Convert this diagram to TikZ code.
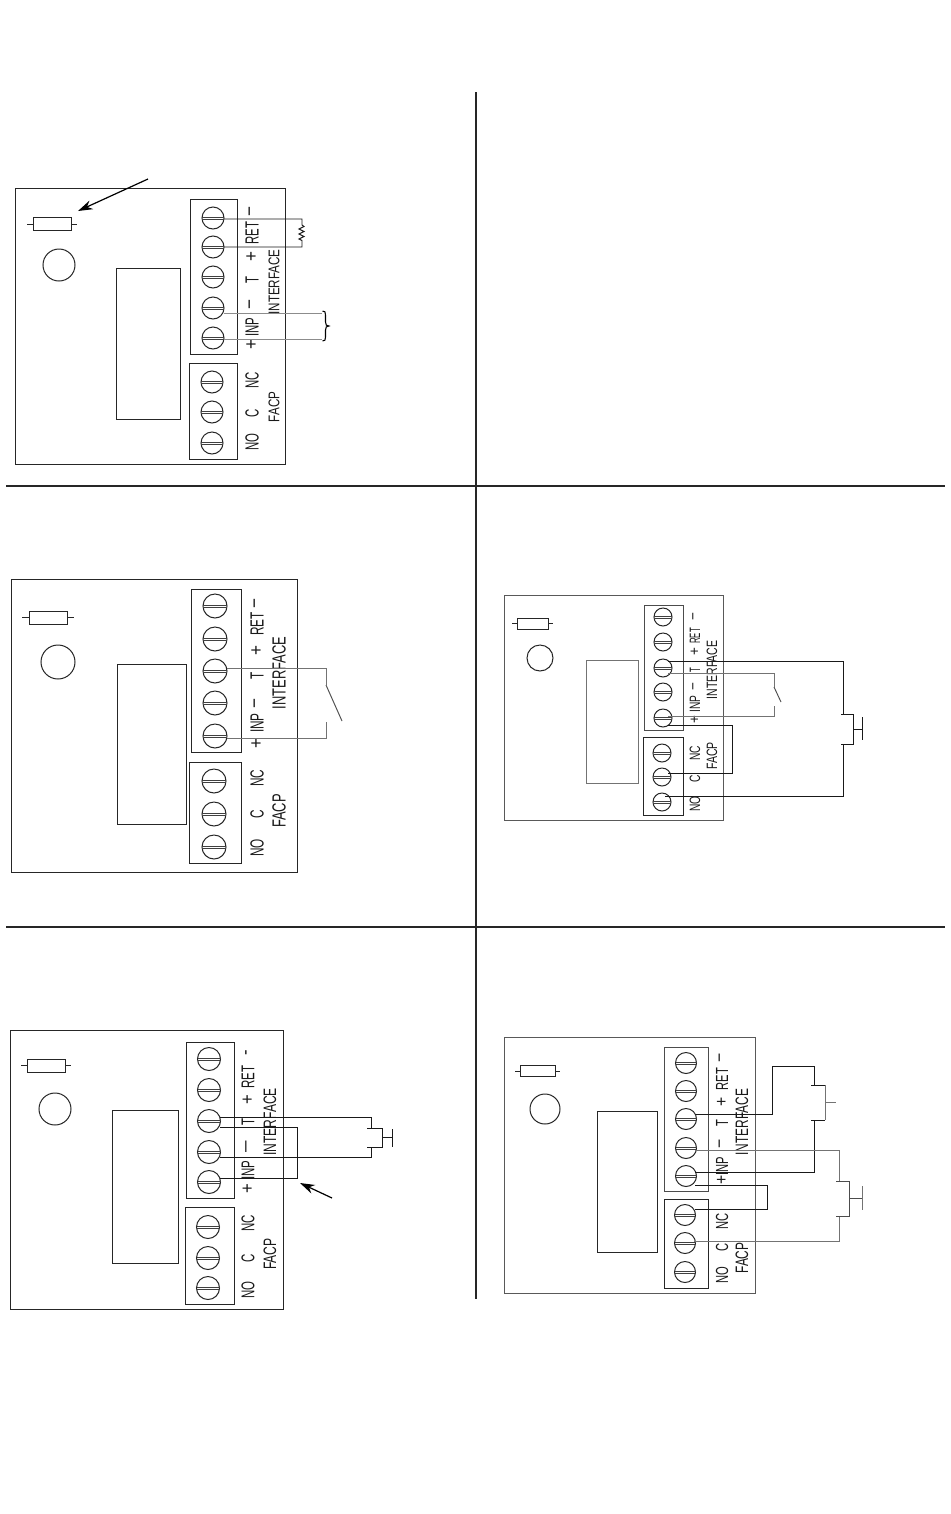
\documentclass[tikz,border=0pt]{standalone}
\usepackage{graphicx}
\usepackage{fontspec}
\setmainfont{Liberation Sans}
\usetikzlibrary{calc,arrows.meta}
\tikzset{
  x=0.75pt,y=-0.75pt,
  outline/.style={draw=black!85,line width=0.75pt},
  screwc/.style={circle,draw=black!85,line width=0.75pt,inner sep=0pt,outer sep=0pt},
  slot/.style={draw=black!75,line width=0.65pt},
  wire/.style={draw=black!90,line width=0.7pt},
  gwire/.style={draw=black!55,line width=0.7pt},
  divider/.style={draw=black!85,line width=1.9pt},
  pointer/.style={draw=black,line width=0.9pt,-{Stealth[length=11pt,width=7pt]}},
  lab/.style={inner sep=0pt,outer sep=0pt,rotate=90,text=black!90}
}
\newcount\lblc
\def\lx{0}\def\ls{18}\def\lst{.6}
\newcommand{\lbl}[2]{\global\advance\lblc by 1
  \pgfmathsetmacro{\fsz}{\ls*0.75}
  \node[lab] (lab\the\lblc) at (\lx,#1) {\scalebox{\lst}[1]{\fontsize{\fsz pt}{\fsz pt}\selectfont #2}};}
% plus and minus signs keep nearly their natural width
\newcommand{\sgn}[2]{\global\advance\lblc by 1
  \pgfmathsetmacro{\fsz}{\ls*0.75}
  \node[lab] (lab\the\lblc) at (\lx,#1) {\scalebox{.9}[1]{\fontsize{\fsz pt}{\fsz pt}\selectfont #2}};}
\newcommand{\setlab}[3]{\def\lx{#1}\def\ls{#2}\def\lst{#3}}
% name x y radius
\newcommand{\screw}[4]{
  \pgfmathsetmacro{\dia}{2*#4*0.75}
  \node[screwc,minimum size=\dia pt] (#1) at (#2,#3) {};
  \draw[slot] (#2-#4,#3-1) -- (#2+#4,#3-1);
  \draw[slot] (#2-#4,#3+1) -- (#2+#4,#3+1);}
% x0 y0 x1 y1 ; lead length; y centre
\newcommand{\fuse}[6]{\draw[outline] (#1,#2) rectangle (#3,#4);
  \draw[outline] (#1-#5,#6) -- (#1,#6) (#3,#6) -- (#3+#5,#6);}
\begin{document}
\begin{tikzpicture}
\useasboundingbox (0,0) rectangle (950,1514);
\fill[white] (0,0) rectangle (950,1514);
% dividers
\coordinate (vt) at (476,92); \coordinate (vb) at (476,1299);
\coordinate (h1l) at (6,486); \coordinate (h1r) at (945,486);
\coordinate (h2l) at (6,927); \coordinate (h2r) at (945,927);
\draw[divider] (vt) -- (vb); \draw[divider] (h1l) -- (h1r); \draw[divider] (h2l) -- (h2r);

% ---------- Panel A
\draw[outline] (15.5,188) rectangle (285,464);
\fuse{33}{217}{71}{230}{6}{224}
\node[screwc,minimum size=24pt] (aled) at (59,265) {};
\draw[outline] (116,268) rectangle (180,419);
\draw[outline] (190,199) rectangle (237,354);
\draw[outline] (189,363) rectangle (237,459);
\screw{a1}{213}{218}{11}\screw{a2}{213}{247}{11}\screw{a3}{213}{277}{11}\screw{a4}{213}{308}{11}\screw{a5}{213}{338}{11}
\screw{a6}{212}{382}{11}\screw{a7}{212}{412}{11}\screw{a8}{212}{443}{11}
\setlab{252}{19}{.6}
\sgn{212}{−}\lbl{233}{RET}\sgn{257}{+}\lbl{280}{T}\sgn{305}{−}\lbl{327}{INP}\sgn{345}{+}\lbl{380}{NC}\lbl{413}{C}\lbl{442}{NO}
\setlab{274}{15.5}{.75}
\lbl{282}{INTERFACE}\lbl{407}{FACP}
\coordinate (ares) at (302,225);
\draw[wire] ($(a1)+(11,1)$) -| (ares)
  -- (304,226.5) -- (299,229) -- (304,231.5) -- (299,234) -- (304,236.5) -- (299,239) -- (302,240.5) |- ($(a2)+(11,0)$);
\coordinate (abr1) at (322,313); \coordinate (abr2) at (322,339);
\draw[gwire,draw=black!45,line width=0.6pt] ($(a4)+(11,5)$) -- (abr1);
\draw[gwire,draw=black!45,line width=0.6pt] ($(a5)+(11,1)$) -- (abr2);
\draw[draw=black,line width=0.8pt] (322.5,311) .. controls (325,311) and (325.5,312) .. (325.5,315)
  -- (325.5,322) .. controls (325.5,325) and (326.5,326) .. (329,326)
  .. controls (326.5,326) and (325.5,327) .. (325.5,330)
  -- (325.5,337) .. controls (325.5,340) and (325,341) .. (322.5,341);
\coordinate (aa1) at (148,179); \coordinate (aa2) at (78,211);
\draw[pointer] (aa1) -- (aa2);

% ---------- Panel B
\draw[outline] (11,579) rectangle (297,872);
\fuse{29}{611}{67}{624}{7}{617}
\node[screwc,minimum size=25.5pt] (bled) at (58,662) {};
\draw[outline] (117,664) rectangle (186,824);
\draw[outline] (191,589) rectangle (241,752);
\draw[outline] (189,762) rectangle (241,863);
\screw{b1}{215}{606}{12}\screw{b2}{215}{639}{12}\screw{b3}{215}{671}{12}\screw{b4}{215}{703}{12}\screw{b5}{215}{736}{12}
\screw{b6}{214}{781}{12}\screw{b7}{214}{814}{12}\screw{b8}{214}{847}{12}
\setlab{257}{19}{.62}
\sgn{603}{−}\lbl{624}{RET}\sgn{650}{+}\lbl{676}{T}\sgn{703}{−}\lbl{723}{INP}\sgn{743}{+}\lbl{778}{NC}\lbl{814}{C}\lbl{848}{NO}
\setlab{279}{19}{.68}
\lbl{673}{INTERFACE}\lbl{811}{FACP}
\coordinate (bs1) at (326,685); \coordinate (bs2) at (326,722); \coordinate (bs3) at (342,721);
\draw[gwire] ($(b3)+(12,-3)$) -| (bs1);
\draw[draw=black!70,line width=0.7pt] (bs1) -- (bs3);
\draw[gwire] ($(b5)+(12,2)$) -| (bs2);

% ---------- Panel C
\draw[outline,draw=black!65] (504,595) rectangle (723,820);
\fuse{517}{618}{548}{629}{5}{623}
\node[screwc,minimum size=19.5pt] (cled) at (540,658) {};
\draw[outline,draw=black!55] (586,660) rectangle (638,783);
\draw[outline,draw=black!70] (644,605) rectangle (683,730);
\draw[outline] (643,737) rectangle (683,815);
\screw{c1}{663}{617}{9}\screw{c2}{663}{642}{9}\screw{c3}{663}{668}{9}\screw{c4}{663}{692}{9}\screw{c5}{663}{718}{9}
\screw{c6}{662}{753}{9}\screw{c7}{662}{777}{9}\screw{c8}{662}{802}{9}
\setlab{695}{15}{.52}
\sgn{617}{−}\lbl{636}{RET}\sgn{652}{+}\lbl{670}{T}\sgn{687}{−}\sgn{720}{+}
\setlab{695}{15}{.68}
\lbl{704}{INP}\lbl{753}{NC}\lbl{779}{C}\lbl{804}{NO}
\setlab{712}{15}{.7}
\lbl{670}{INTERFACE}\lbl{756}{FACP}
\coordinate (cb1) at (843,714); \coordinate (cb2) at (843,744);
\draw[wire] ($(c3)+(5,-7)$) -| (cb1);
\draw[wire] (cb2) |- ($(c8)+(3,-6)$);
\draw[wire] (841,714) -- (853,714) -- (853,744) -- (841,744);
\draw[wire] (853,729) -- (862,729);
\draw[wire] (862,717) -- (862,740);
\coordinate (cs1) at (774,687); \coordinate (cs2) at (774,706); \coordinate (cs3) at (781,702);
\draw[gwire] ($(c3)+(5,5)$) -| (cs1);
\draw[draw=black!70,line width=0.7pt] (cs1) -- (cs3);
\draw[gwire] ($(c5)+(5,-2)$) -| (cs2);
\draw[wire] ($(c5)+(5,7)$) -| (732,773) -- ($(c7)+(6,-4)$);

% ---------- Panel D
\draw[outline] (10,1030) rectangle (283,1309);
\fuse{27}{1059}{65}{1072}{6}{1065}
\node[screwc,minimum size=24pt] (dled) at (55,1109) {};
\draw[outline] (112,1110) rectangle (178,1263);
\draw[outline] (186,1042) rectangle (234,1198);
\draw[outline] (185,1207) rectangle (234,1304);
\screw{d1}{209}{1059}{11.5}\screw{d2}{209}{1090}{11.5}\screw{d3}{209}{1121}{11.5}\screw{d4}{209}{1152}{11.5}\screw{d5}{209}{1182}{11.5}
\screw{d6}{208}{1227}{11.5}\screw{d7}{208}{1258}{11.5}\screw{d8}{208}{1288}{11.5}
\setlab{248}{18.5}{.62}
\sgn{1053}{-}\lbl{1077}{RET}\sgn{1100}{+}\lbl{1122}{T}\lbl{1147}{—}\lbl{1170}{INP}\sgn{1189}{+}\lbl{1223}{NC}\lbl{1258}{C}\lbl{1290}{NO}
\setlab{270}{18}{.67}
\lbl{1122}{INTERFACE}\lbl{1254}{FACP}
\coordinate (db1) at (371,1128); \coordinate (db2) at (371,1147);
\draw[wire] ($(d3)+(11,-4)$) -| (db1);
\draw[wire] (db2) |- ($(d4)+(11,5)$);
\draw[wire] (367,1128) -- (382,1128) -- (382,1147) -- (367,1147);
\draw[wire] (382,1137) -- (392,1137);
\draw[wire] (392,1129) -- (392,1147);
\draw[wire] ($(d3)+(11,6)$) -| (297,1178) -- ($(d5)+(11,-4)$);
\coordinate (da1) at (332,1198); \coordinate (da2) at (300,1183);
\draw[pointer] (da1) -- (da2);

% ---------- Panel E
\draw[outline,draw=black!65] (504,1037) rectangle (755,1293);
\fuse{520}{1065}{555}{1076}{5}{1071}
\node[screwc,minimum size=22.5pt] (eled) at (545,1109) {};
\draw[outline] (597,1111) rectangle (657,1252);
\draw[outline,draw=black!70] (664,1047) rectangle (708,1191);
\draw[outline] (664,1199) rectangle (708,1288);
\screw{e1}{686}{1063}{10.5}\screw{e2}{686}{1091}{10.5}\screw{e3}{686}{1119}{10.5}\screw{e4}{686}{1148}{10.5}\screw{e5}{686}{1176}{10.5}
\screw{e6}{685}{1215}{10.5}\screw{e7}{685}{1243}{10.5}\screw{e8}{685}{1272}{10.5}
\setlab{722}{17.5}{.64}
\sgn{1058}{−}\lbl{1079}{RET}\sgn{1102}{+}\lbl{1123}{T}\sgn{1144}{−}\lbl{1166}{INP}\sgn{1180}{+}\lbl{1221}{NC}\lbl{1247}{C}\lbl{1275}{NO}
\setlab{742}{18}{.66}
\lbl{1122}{INTERFACE}\lbl{1258}{FACP}
% upper (black) button
\coordinate (ek1) at (772,1066); \coordinate (eb1) at (814,1085); \coordinate (eb2) at (814,1120);
\draw[wire] ($(e3)+(9,-5)$) -| (ek1) -| (eb1);
\draw[wire] (eb2) |- ($(e5)+(9,-4)$);
\draw[wire] (811,1085) -- (825,1085);
\draw[wire] (811,1120) -- (825,1120);
\draw[gwire] (825,1085) -- (825,1120);
\draw[gwire] (825,1102) -- (836,1102);
% lower (gray) button
\coordinate (ec1) at (839,1181); \coordinate (ec2) at (839,1216);
\draw[gwire] ($(e4)+(9,2)$) -| (ec1);
\draw[gwire] (ec2) |- ($(e7)+(9,-2)$);
\draw[wire,draw=black!70] (836,1181) -- (849,1181) -- (849,1216) -- (836,1216);
\draw[wire,draw=black!70] (849,1198) -- (862,1198);
\draw[gwire] (862,1186) -- (862,1210);
\draw[wire] ($(e5)+(9,9)$) -| (767,1209) -- ($(e6)+(10,-6)$);
\end{tikzpicture}
\end{document}
